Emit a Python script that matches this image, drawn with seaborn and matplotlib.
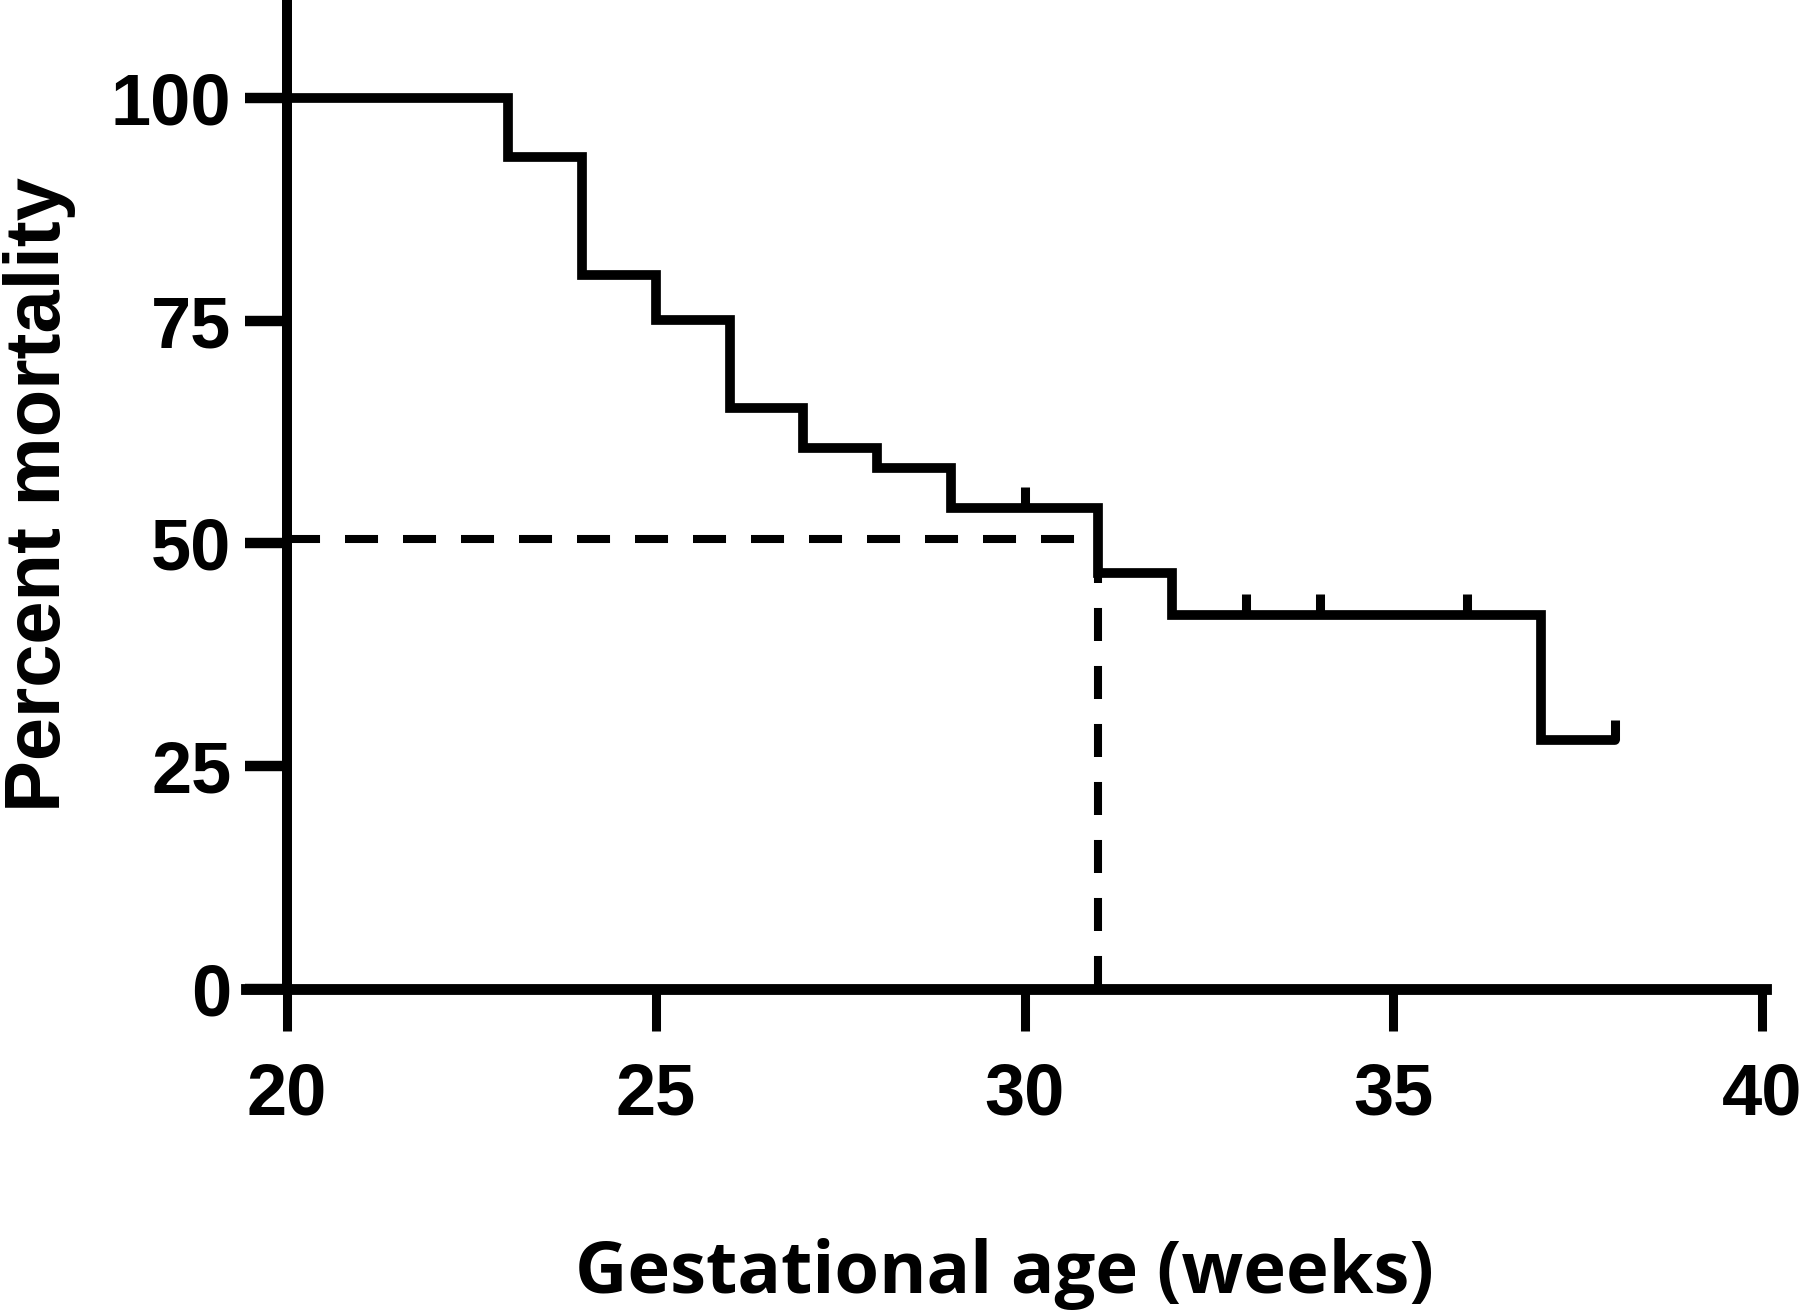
import matplotlib
matplotlib.use('Agg')
import matplotlib.pyplot as plt
import seaborn as sns
import pandas as pd

# ---- data ----
weeks = [20, 23, 24, 25, 26, 27, 28, 29, 31, 32, 37, 38]
mortality = [100, 93.4, 80.1, 75.1, 65.2, 60.7, 58.4, 54.0, 46.7, 42.0, 27.9, 27.9]
censor_weeks = [30, 33, 34, 36, 38]
censor_values = [54.0, 42.0, 42.0, 42.0, 27.9]
median_week = 31
median_level = 50.5
median_drop = 46.7
x_ticks = [20, 25, 30, 35, 40]
y_ticks = [0, 25, 50, 75, 100]
x_label = "Gestational age (weeks)"
y_label = "Percent mortality"

sns.set_style('ticks')
plt.rcParams['font.family'] = ['Liberation Sans', 'DejaVu Sans']
for key in ['text.color', 'axes.edgecolor', 'axes.labelcolor', 'xtick.color', 'ytick.color']:
    plt.rcParams[key] = 'black'

W, H = 1800, 1312
fig = plt.figure(figsize=(W / 100, H / 100), dpi=100)
ppu = 73.75
x0_px = 287
left_px = x0_px - 0.556 * ppu
right_px = x0_px + 20.05 * ppu
bottom_px = 989
ax = fig.add_axes([left_px / W, 1 - bottom_px / H, (right_px - left_px) / W, bottom_px / H])

df = pd.DataFrame({'weeks': weeks, 'mortality': mortality})
sns.lineplot(data=df, x='weeks', y='mortality', drawstyle='steps-post', color='black',
             linewidth=7, estimator=None, ax=ax, solid_joinstyle='miter', zorder=3)

# censor ticks
ax.vlines(censor_weeks, censor_values, [v + 2.3 for v in censor_values],
          colors='black', linewidth=6.5, zorder=3)

# median dashed lines
dash = (0, (4.1, 3.1))
ax.plot([20, median_week], [median_level, median_level], color='black',
        linewidth=5.8, linestyle=dash, zorder=2)
ax.plot([median_week, median_week], [0, median_drop], color='black',
        linewidth=5.8, linestyle=dash, zorder=2)

ax.set_xlim(20 - 0.556, 40.05)
ax.set_ylim(0, 110.96)
ax.set_xticks(x_ticks)
ax.set_yticks(y_ticks)
ax.set_xticklabels([str(t) for t in x_ticks])
ax.set_yticklabels([str(t) for t in y_ticks])

for s in ['top', 'right']:
    ax.spines[s].set_visible(False)
ax.spines['left'].set_position(('data', 20))
ax.spines['left'].set_linewidth(7.2)
ax.spines['bottom'].set_linewidth(7.8)

ax.tick_params(axis='y', length=30, width=7.5, pad=10, direction='out', color='black')
ax.tick_params(axis='x', length=30, width=6.5, pad=22, direction='out', color='black')

for lab in ax.get_yticklabels() + ax.get_xticklabels():
    lab.set_fontfamily('Liberation Sans')
    lab.set_fontweight('bold')
    lab.set_fontsize(52)
    lab.set_color('black')

ax.set_ylabel(y_label, fontsize=56, fontweight='bold', fontfamily='Liberation Sans',
              va='center', color='black')
ax.yaxis.set_label_coords((40 - left_px) / (right_px - left_px), 0.5)
ax.set_xlabel(x_label, fontsize=52, fontweight='bold', fontfamily='Open Sans',
              va='center', color='black')
ax.xaxis.set_label_coords((1004 - left_px) / (right_px - left_px), (bottom_px - 1274) / bottom_px)

fig.savefig('out.png', dpi=100, facecolor='white')
